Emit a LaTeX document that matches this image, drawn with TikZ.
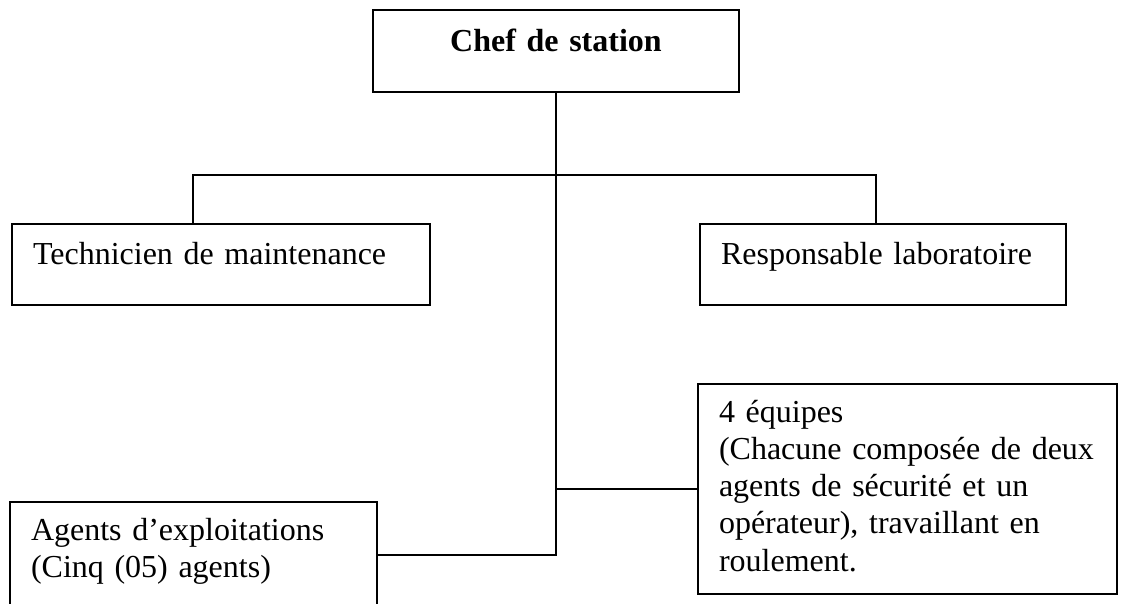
\documentclass[tikz,border=0pt]{standalone}
\usepackage{fontspec}
\setmainfont{Liberation Serif}
\usepackage{tikz}
\usetikzlibrary{positioning}

\begin{document}
\begin{tikzpicture}[
  x=1pt, y=1pt,
  font=\fontsize{32}{37.25}\selectfont,
  post/.style={
    rectangle, draw=black, line width=2pt, anchor=north west,
    inner xsep=21pt, inner ysep=0pt, align=left
  },
  head/.style={post, align=center, font=\fontsize{32}{37.25}\selectfont\bfseries},
  link/.style={line width=1.7pt, color=black}
]

\useasboundingbox (0,0) rectangle (1122,-603);
\clip (0,0) rectangle (1122,-603);

% Boxes
\node[head, text width=324pt, text height=41pt, text depth=41pt] (chef) at (372,-9) {Chef de station};
\node[post, text width=376pt, text height=40.3pt, text depth=41pt] (tech) at (11,-222.7) {Technicien de maintenance};
\node[post, text width=324pt, text height=40.3pt, text depth=41pt, right=268pt of tech] (labo) {Responsable laboratoire};
\node[post, text width=325pt, text height=38pt, text depth=68pt] (agents) at (9,-501) {Agents d’exploitations\\(Cinq (05) agents)};
\node[post, text width=377pt, text height=38pt, text depth=172pt] (equipes) at (697,-383)
  {4 équipes\\(Chacune composée de deux\\agents de sécurité et un\\opérateur), travaillant en\\roulement.};

% Connectors
\coordinate (split) at (555,-175);
\draw[link] ([xshift=-28pt]tech.north) |- (split) -| ([xshift=-7pt]labo.north);
\draw[link] (chef.south) -- (chef.south |- agents.east) -- (agents.east);
\draw[link] (equipes.west) -- (chef.south |- equipes.west);

\end{tikzpicture}
\end{document}
